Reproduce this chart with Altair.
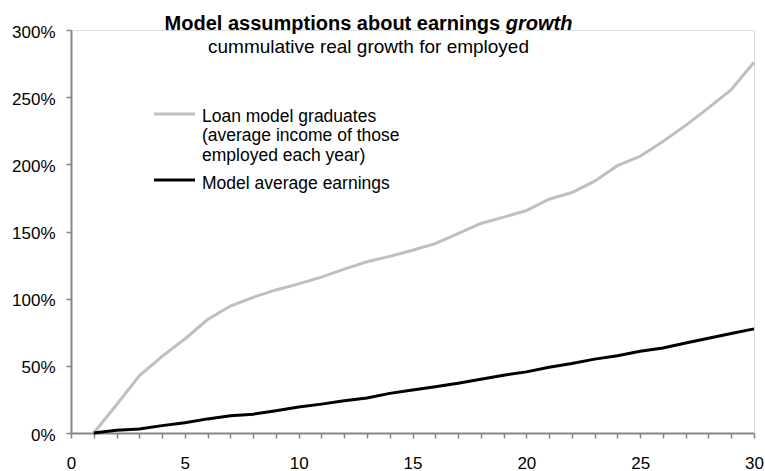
import altair as alt
import pandas as pd

# ---- data ----
years = list(range(1, 31))
loan_grads = [0, 21, 42.5, 57, 70, 84.5, 94.5, 101, 106.5, 111, 116, 122, 127.5, 131.5, 136,
              141, 148.5, 156, 160.7, 165.5, 174, 179, 187.5, 199, 206, 217, 229, 242, 255.5, 276]
model_avg = [0, 2, 3, 5.5, 7.7, 10.5, 12.8, 14, 16.5, 19.3, 21.5, 24, 26, 29.5, 32, 34.5, 37,
             40, 43, 45.5, 49, 51.7, 55, 57.5, 60.8, 63.3, 67, 70.5, 74, 77.5]
series_names = ["Loan model graduates", "Model average earnings"]
series_colors = ["#BFBFBF", "#000000"]
x_ticks = list(range(0, 31))
y_ticks = [0, 0.5, 1.0, 1.5, 2.0, 2.5, 3.0]
title_main = "Model assumptions about earnings"
title_italic = "growth"
subtitle = "cummulative real growth for employed"
legend_lines_1 = ["Loan model graduates", "(average income of those", "employed each year)"]
legend_text_2 = "Model average earnings"

rows = []
for yr, v in zip(years, loan_grads):
    rows.append({"year": yr, "value": v / 100, "series": series_names[0]})
for yr, v in zip(years, model_avg):
    rows.append({"year": yr, "value": v / 100, "series": series_names[1]})
df = pd.DataFrame(rows)

W, H = 683, 403
FONT = "Liberation Sans"
AXIS_COL = "#868686"

base = alt.Chart(df)

lines = base.mark_line(strokeWidth=3).encode(
    x=alt.X("year:Q", scale=alt.Scale(domain=[0, 30], nice=False),
            axis=alt.Axis(values=x_ticks, title=None, grid=False,
                          labelExpr="datum.value % 5 == 0 ? datum.label : ''",
                          tickSize=5, labelPadding=17, labelFlush=False,
                          labelFont=FONT, labelFontSize=17, labelColor="#000",
                          domainColor=AXIS_COL, tickColor=AXIS_COL,
                          domainWidth=2, tickWidth=1.5)),
    y=alt.Y("value:Q", scale=alt.Scale(domain=[0, 3], nice=False),
            axis=alt.Axis(values=y_ticks, format=".0%", title=None, grid=False,
                          tickSize=5, labelPadding=11, labelBaseline="middle",
                          labelFont=FONT, labelFontSize=17, labelColor="#000",
                          domainColor=AXIS_COL, tickColor=AXIS_COL,
                          domainWidth=2, tickWidth=1.5, labelOffset=2)),
    color=alt.Color("series:N", scale=alt.Scale(domain=series_names, range=series_colors),
                    legend=None),
    order=alt.Order("year:Q"),
    detail="series:N",
)

F_T = 20
split_x = 368.5 + F_T * 6.863 - 71
t1 = alt.Chart().mark_text(font=FONT, fontSize=F_T, fontWeight="bold", align="right",
                           baseline="alphabetic", color="#000").encode(
    x=alt.value(split_x - F_T * 0.278), y=alt.value(0), text=alt.value(title_main))
t2 = alt.Chart().mark_text(font=FONT, fontSize=F_T, fontWeight="bold", fontStyle="italic",
                           align="left", baseline="alphabetic", color="#000").encode(
    x=alt.value(split_x), y=alt.value(0), text=alt.value(title_italic))
t3 = alt.Chart().mark_text(font=FONT, fontSize=19, align="center", baseline="alphabetic",
                           color="#000").encode(
    x=alt.value(368.5 - 71), y=alt.value(23), text=alt.value(subtitle))

# legend
lg1 = alt.Chart().mark_rule(strokeWidth=3, color=series_colors[0]).encode(
    x=alt.value(154 - 71), x2=alt.value(195 - 71), y=alt.value(114 - 30))
lg2 = alt.Chart().mark_rule(strokeWidth=3, color=series_colors[1]).encode(
    x=alt.value(154 - 71), x2=alt.value(195 - 71), y=alt.value(180 - 30))
lt1 = alt.Chart().mark_text(font=FONT, fontSize=17.5, align="left", baseline="alphabetic",
                            lineHeight=19.5, color="#000").encode(
    x=alt.value(202 - 71), y=alt.value(121.5 - 30), text=alt.value(legend_lines_1))
lt2 = alt.Chart().mark_text(font=FONT, fontSize=17.5, align="left", baseline="alphabetic",
                            color="#000").encode(
    x=alt.value(202 - 71), y=alt.value(189 - 30), text=alt.value(legend_text_2))

chart = alt.layer(lines, t1, t2, t3, lg1, lg2, lt1, lt2).properties(
    width=W, height=H,
    autosize=alt.AutoSizeParams(type="none"),
    padding={"left": 71, "top": 30, "right": 11, "bottom": 38},
).configure_view(stroke=None).configure(background="white")

chart.save("out.html", embed_options={"renderer": "svg", "actions": False})
